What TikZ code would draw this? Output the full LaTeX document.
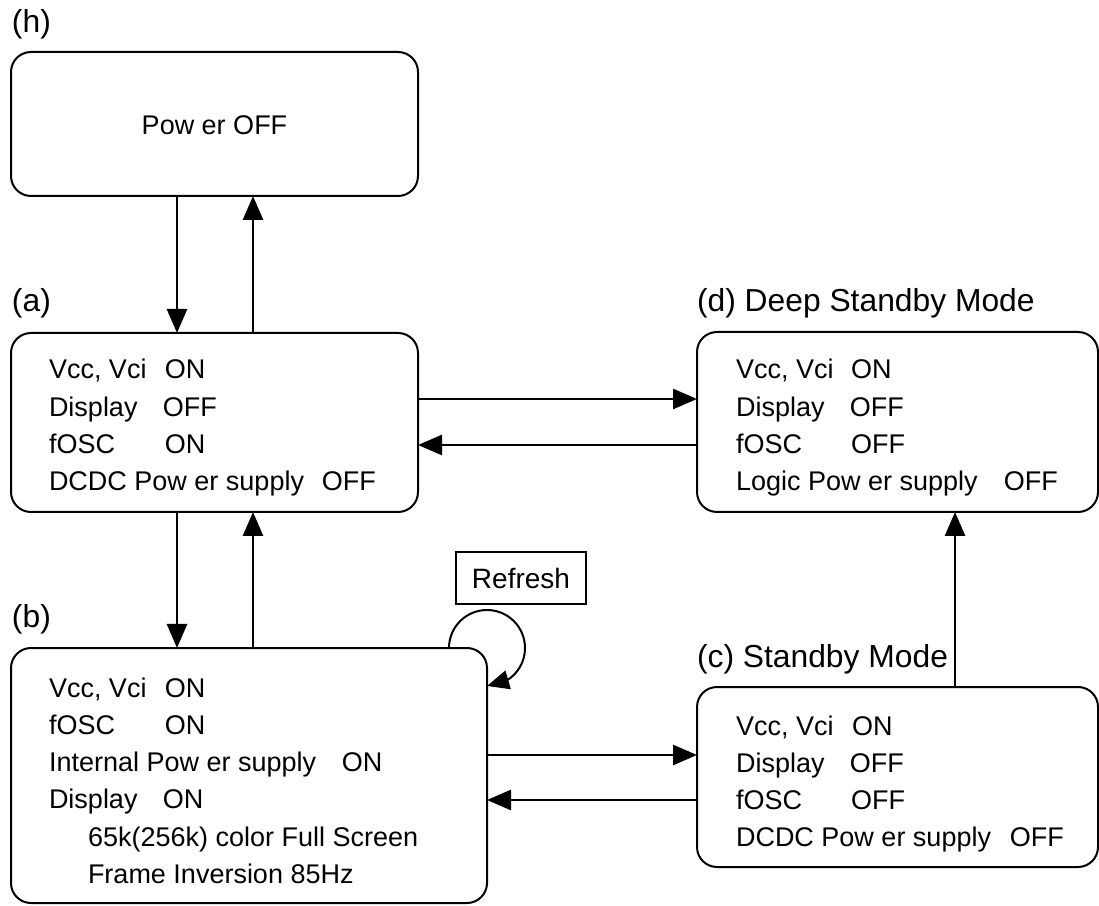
\documentclass[tikz,border=0pt]{standalone}
\usepackage{fontspec}
\setmainfont{Liberation Sans}
\usetikzlibrary{arrows.meta,bending}
\begin{document}
\begin{tikzpicture}[x=1pt,y=1pt,
  stbox/.style={draw, line width=2pt, rounded corners=20pt, inner sep=0pt, outer sep=0pt},
  body/.style={inner sep=0pt, outer sep=0pt, anchor=base west, font=\fontsize{27}{37.3}\selectfont},
  hdr/.style={inner sep=0pt, outer sep=0pt, anchor=base west, font=\fontsize{31.8}{36}\selectfont},
  arr/.style={line width=2.7pt, -{Triangle[length=24pt,width=20pt]}},
  looparr/.style={line width=2pt, -{Triangle[length=22pt,width=19pt]}}
]
\useasboundingbox (0,0) rectangle (1099,905);

% boxes
\node[stbox, minimum width=407pt, minimum height=144pt] (h) at (214.5,781) {};
\node[stbox, minimum width=407pt, minimum height=179pt] (a) at (214.5,482.5) {};
\node[stbox, minimum width=476pt, minimum height=255pt] (b) at (249,129.5) {};
\node[stbox, minimum width=401pt, minimum height=180pt] (c) at (897.5,128) {};
\node[stbox, minimum width=401pt, minimum height=180pt] (d) at (897.5,483) {};
\node[draw, line width=2.5pt, inner sep=0pt, outer sep=0pt, minimum width=130pt, minimum height=52pt,
      font=\fontsize{28}{30}\selectfont] (r) at (521,327) {Refresh};

% headers
\node[hdr] (lh) at (12,872) {(h)};
\node[hdr] (la) at (12,593) {(a)};
\node[hdr] (lb) at (12,277) {(b)};
\node[hdr] (ld) at (697,593) {(d) Deep Standby Mode};
\node[hdr] (lc) at (697,238) {(c) Standby Mode};

% texts
\node[body, anchor=base] (ht) at (214.5,770) {Pow er OFF};
\node[body] (at) at (49,526) {\begin{tabular}[t]{@{}l@{}}
  \makebox[116pt][l]{Vcc, Vci}ON\\
  \makebox[114pt][l]{Display}OFF\\
  \makebox[116pt][l]{fOSC}ON\\
  \makebox[273pt][l]{DCDC Pow er supply}OFF
\end{tabular}};
\node[body] (dt) at (736,526) {\begin{tabular}[t]{@{}l@{}}
  \makebox[115pt][l]{Vcc, Vci}ON\\
  \makebox[114pt][l]{Display}OFF\\
  \makebox[115pt][l]{fOSC}OFF\\
  \makebox[268pt][l]{Logic Pow er supply}OFF
\end{tabular}};
\node[body] (bt) at (49,208) {\begin{tabular}[t]{@{}l@{}}
  \makebox[116pt][l]{Vcc, Vci}ON\\
  \makebox[116pt][l]{fOSC}ON\\
  \makebox[293pt][l]{Internal Pow er supply}ON\\
  \makebox[114pt][l]{Display}ON\\
  \hspace*{39pt}65k(256k) color Full Screen\\
  \hspace*{39pt}Frame Inversion 85Hz
\end{tabular}};
\node[body] (ct) at (736,170) {\begin{tabular}[t]{@{}l@{}}
  \makebox[116pt][l]{Vcc, Vci}ON\\
  \makebox[114pt][l]{Display}OFF\\
  \makebox[115pt][l]{fOSC}OFF\\
  \makebox[274pt][l]{DCDC Pow er supply}OFF
\end{tabular}};

% helper coordinates
\coordinate (xL) at (177,0);
\coordinate (xR) at (253,0);
\coordinate (xCD) at (955,0);
\coordinate (yAD) at (0,506);
\coordinate (yDA) at (0,460);
\coordinate (yBC) at (0,150);
\coordinate (yCB) at (0,105);

% connectors
\draw[arr] (h.south -| xL) -- (a.north -| xL);
\draw[arr] (a.north -| xR) -- (h.south -| xR);
\draw[arr] (a.south -| xL) -- (b.north -| xL);
\draw[arr] (b.north -| xR) -- (a.south -| xR);
\draw[arr] (a.east |- yAD) -- (d.west |- yAD);
\draw[arr] (d.west |- yDA) -- (a.east |- yDA);
\draw[arr] (b.east |- yBC) -- (c.west |- yBC);
\draw[arr] (c.west |- yCB) -- (b.east |- yCB);
\draw[arr] (c.north -| xCD) -- (d.south -| xCD);
\draw[looparr] ([xshift=-38pt]b.north east) arc[start angle=180, end angle=-90, radius=38pt];
\end{tikzpicture}
\end{document}
